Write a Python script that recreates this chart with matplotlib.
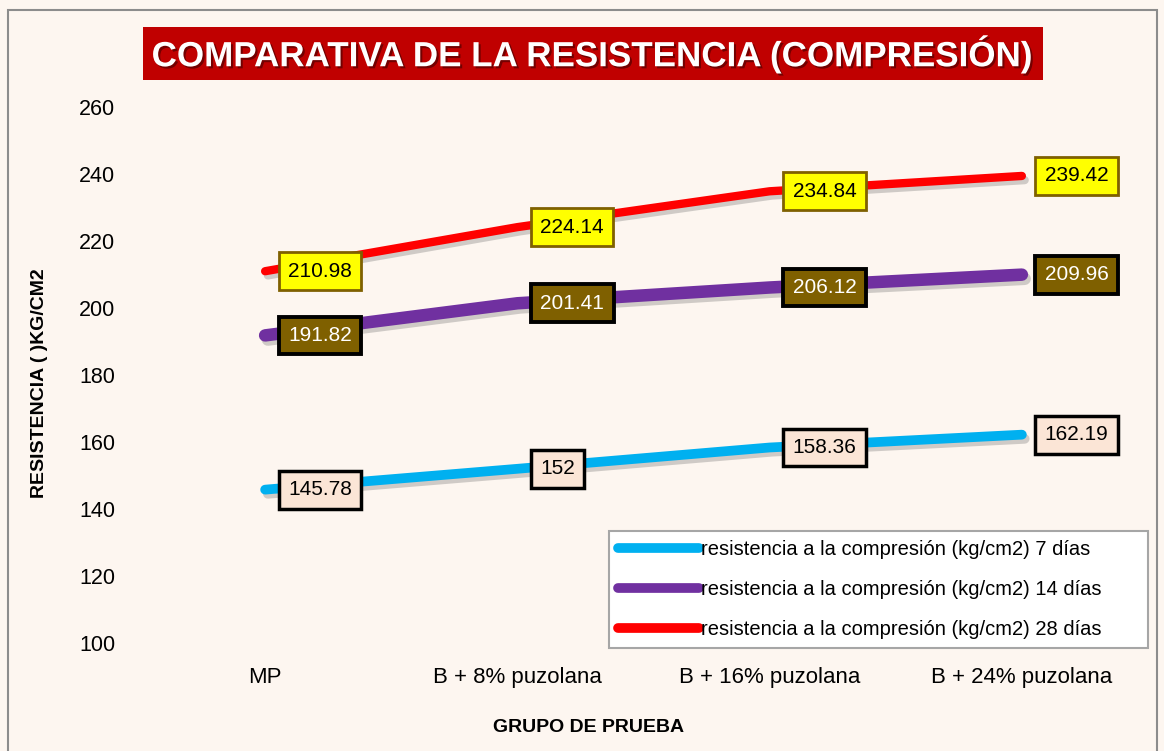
import matplotlib
matplotlib.use("Agg")
import matplotlib.pyplot as plt
import matplotlib.patheffects as pe
from matplotlib.patches import Rectangle

categories = ["MP", "B + 8% puzolana", "B + 16% puzolana", "B + 24% puzolana"]
r7 = [145.78, 152, 158.36, 162.19]
r14 = [191.82, 201.41, 206.12, 209.96]
r28 = [210.98, 224.14, 234.84, 239.42]
labels7 = ["145.78", "152", "158.36", "162.19"]
labels14 = ["191.82", "201.41", "206.12", "209.96"]
labels28 = ["210.98", "224.14", "234.84", "239.42"]
series_names = ["resistencia a la compresión (kg/cm2) 7 días",
                "resistencia a la compresión (kg/cm2) 14 días",
                "resistencia a la compresión (kg/cm2) 28 días"]
yticks = [100, 120, 140, 160, 180, 200, 220, 240, 260]

plt.rcParams['font.family'] = ['Liberation Sans', 'DejaVu Sans']

W, H = 1164, 751
bg = '#FDF6F0'
fig = plt.figure(figsize=(W/100, H/100), dpi=100, facecolor=bg)
ax_l, ax_r, ax_t, ax_b = 139, 1148, 107, 643
ax = fig.add_axes([ax_l/W, 1-ax_b/H, (ax_r-ax_l)/W, (ax_b-ax_t)/H])
ax.set_facecolor('none')

# figure border
fig.patches.append(Rectangle((8/W, -0.01), (1157-8)/W, 1-10/H+0.01,
                             transform=fig.transFigure, fill=False,
                             edgecolor='#8c8c8c', linewidth=1.5))

x = list(range(len(categories)))
shadow = [pe.SimpleLineShadow(offset=(2, -3), shadow_color='#666666', alpha=0.3), pe.Normal()]

specs = [
    (r7, labels7, '#00B0F0', 7, '#FBE5D6', 'black', 'black', 2.5),
    (r14, labels14, '#7030A0', 9, '#7F6000', 'black', 'white', 2.8),
    (r28, labels28, '#FF0000', 6, '#FFFF00', '#7F6000', 'black', 2.0),
]
for (vals, labs, col, lw, fc, ec, tc, blw), name in zip(specs, series_names):
    ax.plot(x, vals, color=col, linewidth=lw, solid_capstyle='round',
            path_effects=shadow, label=name, zorder=3)
    for xi, v, lab in zip(x, vals, labs):
        ax.annotate(lab, (xi, v), xytext=(16.5, 0), textcoords='offset points',
                    ha='left', va='center', fontsize=15, color=tc, zorder=5,
                    bbox=dict(boxstyle='square,pad=0.45', facecolor=fc,
                              edgecolor=ec, linewidth=blw))

ax.set_xlim(-0.5, 3.5)
ax.set_ylim(100, 260)
ax.set_yticks(yticks)
ax.set_xticks(x)
ax.set_xticklabels(categories)
ax.tick_params(length=0, labelsize=15.5, colors='black')
ax.tick_params(axis='y', pad=17)
ax.tick_params(axis='x', labelsize=16, pad=17)
for s in ax.spines.values():
    s.set_visible(False)

fig.text(589/W, 1-727/H, "GRUPO DE PRUEBA", ha='center', va='center',
         fontsize=14, fontweight='bold')
fig.text(40/W, 1-383/H, "RESISTENCIA ( )KG/CM2", ha='center', va='center',
         rotation=90, fontsize=14, fontweight='bold')

lw_px, lx0, lx1, ly0, ly1 = 1, 609, 1148, 530, 648
leg = ax.legend(loc='lower left', mode='expand',
                bbox_to_anchor=((lx0-ax_l)/(ax_r-ax_l), (ax_b-ly1)/(ax_b-ax_t),
                                (lx1-lx0)/(ax_r-ax_l), (ly1-ly0)/(ax_b-ax_t)),
                borderaxespad=0,
                fontsize=14.5, handlelength=4.0, handletextpad=0.1,
                frameon=True, fancybox=False, edgecolor='#a6a6a6',
                facecolor='white', framealpha=1, labelspacing=1.05,
                borderpad=0.45)
for h in leg.get_lines():
    h.set_linewidth(7)
    h.set_path_effects([])
leg.get_frame().set_linewidth(1.5)

fig.patches.append(Rectangle((143/W, 1-80/H), (1043-143)/W, 53/H,
                             transform=fig.transFigure, facecolor='#C00000',
                             edgecolor='none'))
fig.text(592/W, 1-54/H, "COMPARATIVA DE LA RESISTENCIA (COMPRESIÓN)",
         ha='center', va='center', fontsize=25.2, fontweight='bold', color='white',
         path_effects=[pe.withSimplePatchShadow(offset=(1.5, -1.5), shadow_rgbFace='#400000', alpha=0.6)])

fig.savefig('out.png', dpi=100, facecolor=bg)
